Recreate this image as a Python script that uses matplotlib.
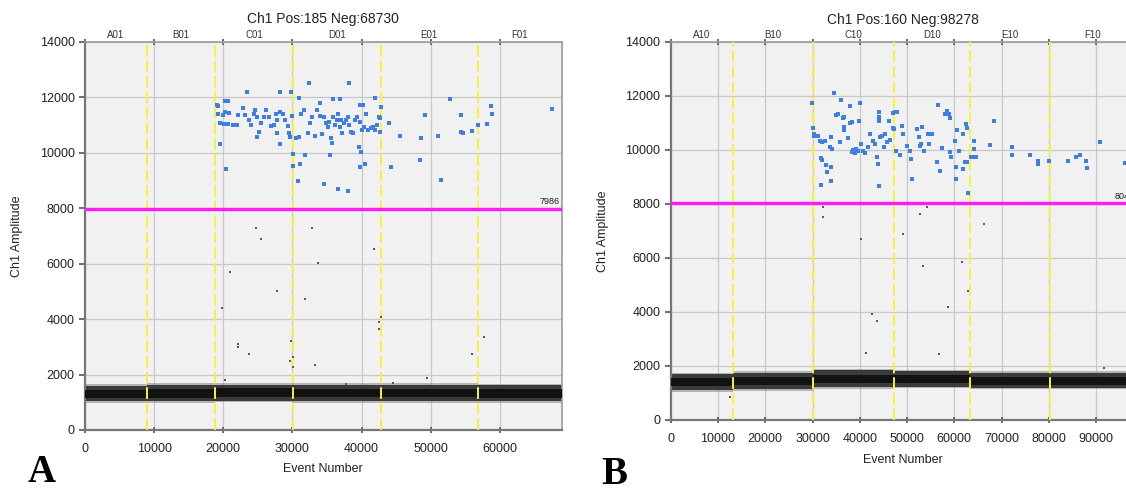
import numpy as np
import matplotlib
matplotlib.use("Agg")
import matplotlib.pyplot as plt
import matplotlib.transforms as mtransforms

plt.rcParams['font.family'] = ['Liberation Sans', 'DejaVu Sans']

# ---- panel A data ----
a_title = "Ch1 Pos:185 Neg:68730"
a_total = 68915
a_thresh = 7986
a_wells = ["A01", "B01", "C01", "D01", "E01", "F01"]
a_bounds = [0, 8990, 18840, 30150, 42750, 56810, 68915]
a_band_lo = [1030, 1040, 1060, 1050, 1050, 1040]
a_band_hi = [1600, 1620, 1640, 1630, 1620, 1610]
a_core_lo = [1160, 1170, 1200, 1190, 1180, 1170]
a_core_hi = [1460, 1470, 1500, 1490, 1480, 1470]

a_pos_x = [32350, 38135, 23400, 28250, 29820, 30880, 41920, 52860, 67590, 58650,
           58860, 19090, 20300, 20700, 36900, 35870, 33930, 39800, 40200, 49180,
           54440,
           19460, 20460, 30090, 30090, 31140, 31820, 30770, 34560, 35450, 36660,
           37980, 39560, 39920, 39800, 40500, 44290, 45600, 48500, 48600, 51000,
           51550, 54440, 54650, 56020, 56810, 58120, 42710, 42710, 42870, 44030,
           19200, 19300, 19940, 20250, 20880, 19570, 20090, 20620, 21410, 21930,
           22200, 22880, 23090, 23670, 24040, 24460, 24560, 24830, 25200, 24830,
           25510, 25880, 26140, 26670, 26930, 27300, 27620, 27830, 28140, 27720,
           28250, 28670, 28930, 29300, 29560, 29720, 29930,
           30460, 30980, 31300, 31670, 32190, 32560, 32880, 33240, 33510, 33930,
           34300, 34560, 34870, 35080, 35350, 35510, 35720, 35870, 36140, 36400,
           36660, 36930, 37080, 37190, 37450, 37710, 37980, 38240, 38500, 38770,
           39030, 39290, 39820, 40080, 40340, 40610, 40870, 41400, 41660, 41920,
           42190, 42450]
a_pos_y = [12535, 12535, 12200, 12180, 12180, 11975, 11975, 11940, 11580, 11700,
           11400, 11730, 11880, 11880, 11940, 11940, 11800, 11730, 11730, 11350,
           11370,
           10310, 9400, 9950, 9520, 9580, 9915, 8980, 8860, 9915, 8680,
           8620, 10200, 10040, 9500, 9580, 9500, 10600, 9760, 10520, 10600,
           9015, 10760, 10720, 10800, 11000, 11030, 10760, 11240, 11650, 11060,
           11420, 11680, 11360, 11480, 11440, 11060, 11030, 11030, 11000, 11000,
           11360, 11630, 11360, 11180, 11000, 11420, 11540, 11300, 10760, 10580,
           11060, 11300, 11540, 11300, 10960, 11000, 11390, 11180, 11480, 10700,
           10310, 11420, 11200, 10960, 10700, 10580, 11320,
           10550, 10580, 11420, 11540, 10700, 11060, 11300, 10620, 11540, 11320,
           10670, 11300, 11060, 10940, 11120, 10520, 10360, 11300, 11000, 11180,
           11420, 10940, 11180, 10700, 11060, 11180, 11300, 11000, 10760, 10700,
           11180, 11300, 11120, 10820, 10940, 11420, 10820, 10880, 10940, 10820,
           11000, 11300]

a_rain_x = [24720, 25400, 32820, 41760, 33770, 21040, 27830, 31820, 19880, 42820,
            42450, 42450, 22150, 22150, 23670, 29820, 30140, 30140, 29670, 33300,
            56020, 57700, 49400, 20200, 44600, 37700]
a_rain_y = [7300, 6880, 7300, 6530, 6010, 5685, 5010, 4730, 4400, 4065,
            3905, 3640, 3100, 3000, 2760, 3200, 2640, 2270, 2480, 2330,
            2760, 3340, 1875, 1790, 1700, 1650]

# ---- panel B data ----
b_title = "Ch1 Pos:160 Neg:98278"
b_total = 98438
b_thresh = 8046
b_wells = ["A10", "B10", "C10", "D10", "E10", "F10"]
b_bounds = [0, 13170, 30210, 47170, 63280, 80150, 98438]
b_band_lo = [1110, 1150, 1210, 1240, 1190, 1190]
b_band_hi = [1690, 1740, 1840, 1810, 1740, 1740]
b_core_lo = [1250, 1300, 1370, 1380, 1310, 1310]
b_core_hi = [1550, 1600, 1680, 1680, 1610, 1610]

b_pos_x = [34600, 29990, 35950, 37830, 40070, 43970, 43970, 43970, 35350, 36630,
           47500, 47850, 56470, 58400, 58780, 58030, 59150, 68460, 46200,
           30110, 30260, 30410, 31160, 31540, 31910, 32730, 33850, 34220, 33700,
           35050, 36550, 36700, 36700, 35730, 37980, 38350, 37600, 38600, 38900,
           39300, 39700, 38300, 39850, 40220, 40600, 41000, 41720, 42100, 42850,
           43200, 43600, 43820, 44120, 44340, 44700, 45300, 45100, 45840, 46210,
           46430, 46960, 47330, 47100, 47600, 47600, 48830, 49210, 48460, 49950,
           50550, 51080, 50850, 52050, 52580, 52950, 52800, 53180, 53550, 54450,
           54600, 55200, 56320, 57070, 57450, 59170, 59320, 60070, 60300, 60300,
           60670, 61040, 61790, 61790, 62310, 62690, 62540, 62690, 62840, 63430,
           64180, 64180, 63800, 64560, 67560, 72200, 72200, 76030, 77670, 77670,
           79930, 84040, 85750, 86650, 87770, 88160, 90780, 96020,
           31700, 32100, 32900, 33100, 33850, 31840, 33850]
b_pos_y = [12120, 11750, 11850, 11630, 11730, 11400, 11240, 11090, 11340, 11240,
           11420, 11420, 11680, 11450, 11350, 11320, 11200, 11090, 11090,
           10800, 10580, 10520, 10520, 10340, 10280, 10340, 10480, 10040, 10100,
           11310, 11190, 10850, 10730, 10280, 11010, 11040, 10460, 10000, 9900,
           10050, 9950, 9920, 11070, 10220, 9970, 9900, 10100, 10580, 10340,
           10220, 9730, 9490, 8680, 10480, 10520, 10580, 10100, 10280, 11070,
           10360, 10820, 10760, 11370, 11390, 9975, 10880, 10580, 9820, 10160,
           9975, 8910, 9670, 10760, 10480, 10240, 10160, 10850, 9950, 10580,
           10240, 10600, 9550, 9220, 10070, 9910, 9730, 10340, 9370, 8920,
           10730, 9975, 9310, 10580, 9550, 9550, 10970, 10820, 8420, 9730,
           10320, 10040, 9730, 9730, 10190, 10100, 9820, 9820, 9610, 9470,
           9575, 9575, 9730, 9830, 9610, 9330, 10280, 9530,
           9700, 9620, 9450, 9200, 9380, 8700, 8860]

b_rain_x = [32130, 32210, 54230, 52730, 66210, 49060, 40300, 53330, 61720, 62990,
            58570, 42690, 43590, 41420, 56850, 91680, 12500]
b_rain_y = [7890, 7530, 7890, 7640, 7270, 6880, 6700, 5700, 5860, 4770,
            4200, 3930, 3670, 2500, 2430, 1920, 860]

W, H = 1126, 493
fig = plt.figure(figsize=(W / 100, H / 100), dpi=100)


def px_axes(l, t, r, b):
    return fig.add_axes([l / W, 1 - b / H, (r - l) / W, (b - t) / H])


def draw_panel(ax, title, total, thresh, wells, bounds, blo, bhi, clo, chi,
               px, py, rx, ry, xticks, letter, letter_xy, xlabel_y):
    ax.set_facecolor("#f1f1f1")
    ax.set_xlim(0, total)
    ax.set_ylim(0, 14000)
    ax.set_xticks(xticks)
    ax.set_yticks(range(0, 14001, 2000))
    ax.grid(True, color="#c9c9c9", lw=0.9, zorder=0)
    ax.set_axisbelow(True)

    # negative droplet band, darker towards its core
    xs = bounds
    lo_out = [v - 60 for v in blo]
    hi_out = [v + 60 for v in bhi]
    ax.fill_between(xs, lo_out + [lo_out[-1]], hi_out + [hi_out[-1]],
                    step="post", color="#6a6a6a", alpha=0.45, lw=0, zorder=2)
    ax.fill_between(xs, blo + [blo[-1]], bhi + [bhi[-1]], step="post",
                    color="#2e2e2e", alpha=0.9, lw=0, zorder=2)
    ax.fill_between(xs, clo + [clo[-1]], chi + [chi[-1]], step="post",
                    color="#121212", lw=0, zorder=3)

    # well boundaries
    for b in bounds[1:-1]:
        ax.axvline(b, color="#f5f53a", lw=1.4, ls=(0, (6, 2)), zorder=4)

    ax.scatter(rx, ry, s=2.5, marker="s", color="#5a5a5a", lw=0, zorder=5)
    ax.scatter(px, py, s=6, marker="s", color="#3f7fe4", lw=0, zorder=5)

    ax.axhline(thresh, color="#ff1aff", lw=2.4, zorder=6)
    ax.text(total * 0.997, thresh + 80, str(thresh), ha="right", va="bottom",
            fontsize=6.5, color="#222222", zorder=7)

    # well labels along top
    trans = mtransforms.blended_transform_factory(ax.transData, ax.transAxes)
    for i, w in enumerate(wells):
        cx = (bounds[i] + bounds[i + 1]) / 2
        ax.text(cx, 1.004, w, transform=trans, ha="center", va="bottom",
                fontsize=7, color="#333333")
    ax.text(0.5, 1.058, title, transform=ax.transAxes, ha="center",
            va="center", fontsize=10, color="#222222")

    for side in ["left", "bottom"]:
        ax.spines[side].set_color("#777777")
        ax.spines[side].set_linewidth(1.6)
    for side in ["top", "right"]:
        ax.spines[side].set_color("#9a9a9a")
        ax.spines[side].set_linewidth(1.2)
    ax.tick_params(axis="both", direction="out", length=4, width=1.2,
                   color="#555555", labelsize=9, labelcolor="#222222")
    ax.tick_params(axis="x", top=True, direction="inout", length=5, pad=7)
    ax.set_ylabel("Ch1 Amplitude", fontsize=9, color="#222222", labelpad=12)
    ax.set_xlabel("Event Number", fontsize=9, color="#222222")
    ax.xaxis.set_label_coords(0.5, xlabel_y)

    fig.text(letter_xy[0] / W, 1 - letter_xy[1] / H, letter, fontsize=28,
             fontweight="bold", family="Liberation Serif", ha="left",
             va="center", color="black")


ax_a = px_axes(85, 42, 561.5, 430)
draw_panel(ax_a, a_title, a_total, a_thresh, a_wells, a_bounds,
           a_band_lo, a_band_hi, a_core_lo, a_core_hi,
           a_pos_x, a_pos_y, a_rain_x, a_rain_y,
           range(0, 60001, 10000), "A", (28, 472), -0.085)

ax_b = px_axes(670.7, 42, 1136, 420)
draw_panel(ax_b, b_title, b_total, b_thresh, b_wells, b_bounds,
           b_band_lo, b_band_hi, b_core_lo, b_core_hi,
           b_pos_x, b_pos_y, b_rain_x, b_rain_y,
           range(0, 90001, 10000), "B", (601, 474), -0.09)

fig.savefig("out.png", dpi=100)
